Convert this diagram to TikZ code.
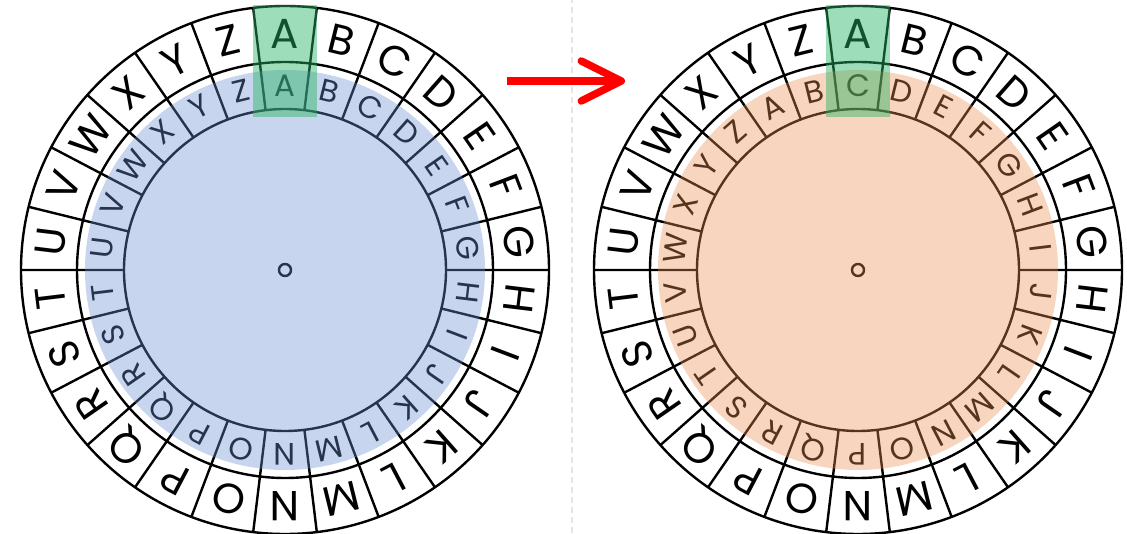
\documentclass[tikz,border=0pt]{standalone}
\usepackage{fontspec}
\setmainfont{Poppins}
\usetikzlibrary{arrows.meta}

\definecolor{wheelblue}{RGB}{108,143,211}
\definecolor{wheelorange}{RGB}{238,143,81}
\definecolor{markgreen}{RGB}{40,180,100}
\definecolor{sepgray}{RGB}{226,229,234}

\tikzset{
  wheel line/.style={black, line width=2.4},
  outer letter/.style={inner sep=0pt, font=\fontsize{42}{42}\selectfont},
  inner letter/.style={inner sep=0pt, font=\fontsize{31}{31}\selectfont},
  red arrow/.style={red, line width=7.5, -{Straight Barb[length=40pt,width=40pt,round]}}
}

\newcommand{\cipherwheel}[3]{%
\begin{scope}[shift={#1}]
\draw[wheel line] (0,0) circle (264);
\draw[wheel line] (0,0) circle (208);
\draw[wheel line] (0,0) circle (161);
\draw[wheel line] (0,0) circle (6);
\foreach \l [count=\i from 0] in {A,B,C,D,E,F,G,H,I,J,K,L,M,N,O,P,Q,R,S,T,U,V,W,X,Y,Z} {
  \draw[wheel line] ({96.923-13.846*\i}:161) -- ({96.923-13.846*\i}:264);
  \node[outer letter, rotate=-13.846*\i] at ({90-13.846*\i}:236) {\l};
  \node[inner letter, rotate=-13.846*(\i-#2)] at ({90-13.846*(\i-#2)}:184) {\l};
}
\fill[#3, fill opacity=0.37] (0,0) circle (200);
\fill[markgreen, fill opacity=0.45] (-32,153) rectangle (32,265);
\end{scope}}

\begin{document}
\begin{tikzpicture}[x=1pt,y=1pt]
\useasboundingbox (0,0) rectangle (1127,533);
\fill[white] (0,0) rectangle (1127,533);
\draw[sepgray, line width=1.5, dash pattern=on 6pt off 4pt] (572,0) -- (572,533);
\cipherwheel{(285,263)}{0}{wheelblue}
\cipherwheel{(858,263)}{2}{wheelorange}
\coordinate (arrow start) at (507,452);
\coordinate (arrow end) at (625,452);
\draw[red arrow] (arrow start) -- (arrow end);
\end{tikzpicture}
\end{document}
